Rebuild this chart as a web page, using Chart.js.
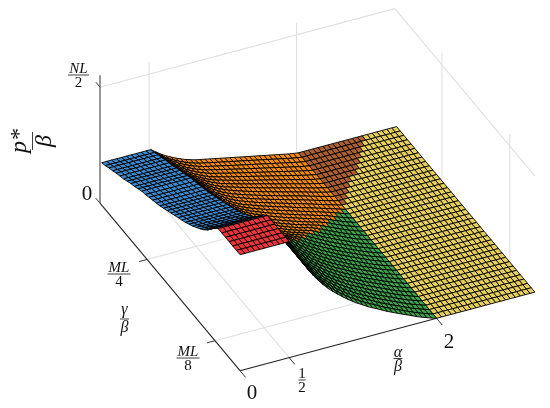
<!DOCTYPE html>
<html>
<head>
<meta charset="utf-8">
<style>html,body{margin:0;padding:0;background:#fff}canvas{display:block}</style>
<script src="https://cdn.jsdelivr.net/npm/chart.js@4/dist/chart.umd.min.js"></script>
</head>
<body>
<canvas id="c" width="550" height="408"></canvas>
<script>
// ---- values ----
const alphaStep = 0.05, gammaStep = 0.026;
const alphaTicks = [0, 0.5, 2];
const gammaTicks = [0.179, 0.664];
const heightTicks = [0, 116];
const heightLimit = 128, alphaLimit = 3, gammaLimit = 1;
// height along each gamma mesh row on the alpha<=1/2 shelf (picture px units of p*/beta)
const rowHeights = [116,116,116,116,116,116,116,112,107,101.5,97.5,94,91,88,85.5,83,81,79,77,75,73,71,69,67.5,66,64.5,63,62,60,58,56.5,54.5,52.5,51,49.5,47.5,46,44,42.5];
// relative height along each alpha mesh column on the green face
const columnShare = [1,1,1,1,1,1,1,1,1,1,1,.931,.853,.776,.707,.647,.595,.547,.504,.466,.431,.397,.366,.336,.31,.284,.259,.237,.216,.194,.172,.153,.134,.115,.097,.078,.06,.043,.028,.013,0,0,0,0,0,0,0,0,0,0,0,0,0,0,0,0,0,0,0,0,0];
// height along the far edge, for columns 10..40
const farEdge = [42.5,39,35.5,32.5,30,27.5,25.5,23.5,22,20.5,19.5,18.5,17.5,16.5,15.5,14.5,13.5,12.5,11.5,10.5,9.5,8.5,7.5,6.5,5.5,4.5,3.5,2.5,1.5,0.7,0];
// gamma row at which green meets orange, for columns 10..40
const ridgeRows = [6,6.7,7.3,8,8.6,9.3,10,10.6,11.3,11.9,12.6,13.3,13.9,14.6,15.2,15.9,16.6,17.2,17.9,18.5,19.2,19.9,20.5,21.2,21.8,22.5,23.2,23.8,24.5,25.1,25.8];
// gamma row at which yellow meets brown, for columns 40..53
const brownRows = [25.8,26.7,27.7,28.6,29.6,30.5,31.4,32.4,33.3,34.3,35.2,36.1,37.1,38];
const shelfRow = 6, rowCount = 38, colCount = 60;
const colours = {blue:'#3b8bd3', red:'#ee3238', green:'#3ca64a', orange:'#f68b0c', brown:'#ae5f2f', yellow:'#e7cf5b'};

// ---- camera of the reference ----
const view = {ox:240, oy:370.7, ax:98.3, ay:-26.2, gx:-140, gy:-167.5, zy:-1};
function project(a, g, z){
  return {x: view.ox + a*view.ax + g*view.gx, y: view.oy + a*view.ay + g*view.gy + z*view.zy};
}

function rowAt(k){
  const i = Math.min(Math.floor(k), rowCount-1), f = k-i;
  return rowHeights[i]*(1-f) + rowHeights[i+1]*f;
}
function heightAt(i, j){
  const share = columnShare[i];
  if (share === 0) return 0;
  if (i <= 10) return rowHeights[j];
  const r = ridgeRows[i-10], top = 116*share;
  if (j <= r) return top;
  const shelf = rowAt(shelfRow + (j-r)/(rowCount-r)*(rowCount-shelfRow));
  const low = rowHeights[rowCount], s = (shelf-low)/(116-low);
  return farEdge[i-10] + (top-farEdge[i-10])*s;
}
function colourAt(i, j){          // cell (i,j) spans columns i..i+1, rows j..j+1
  const cj = j+0.5;
  if (i < 10) return cj < shelfRow ? colours.red : colours.blue;
  if (i < 40) return cj < ridgeRows[i-10] ? colours.green : colours.orange;
  if (i < 53 && cj > brownRows[i-40]) return colours.brown;
  return colours.yellow;
}
function meshPoint(i, j){ return project(i*alphaStep, j*gammaStep, heightAt(i,j)); }

const datasets = [];
// nearest cells first: Chart.js paints the first dataset last
for (let j = 0; j < rowCount; j++){
  for (let i = 0; i < colCount; i++){
    const a = meshPoint(i,j), b = meshPoint(i+1,j), c = meshPoint(i+1,j+1), d = meshPoint(i,j+1);
    datasets.push({data:[a,b,c,d,a], showLine:true, fill:'shape', tension:0, pointRadius:0,
      borderColor:'#000', borderWidth:0.9, backgroundColor:colourAt(i,j), clip:false, borderJoinStyle:'miter'});
  }
}
function segment(p, q, colour, width){
  datasets.push({data:[p,q], showLine:true, fill:false, tension:0, pointRadius:0, borderColor:colour, borderWidth:width, clip:false});
}
const dark = '#222', grid = '#e0e0e0';
// axes and ticks
segment(project(0,0,0), project(alphaLimit*0.667,0,0), dark, 1.1);
segment(project(0,gammaLimit,0), project(0,0,0), dark, 1.1);
segment(project(0,gammaLimit,0), project(0,gammaLimit,heightLimit), '#444', 1.1);
alphaTicks.forEach(a => segment(project(a,0,0), project(a,-0.04,0), dark, 0.9));
gammaTicks.forEach(g => segment(project(0,g,0), project(-0.08,g,0), dark, 0.9));
heightTicks.forEach(z => segment(project(0,gammaLimit,z), project(0,gammaLimit+0.03,z), dark, 0.9));
// grid on floor and walls
alphaTicks.slice(1).forEach(a => {
  segment(project(a,0,0), project(a,gammaLimit,0), grid, 1.1);
  segment(project(a,gammaLimit,0), project(a,gammaLimit,heightLimit), grid, 1.1);
});
gammaTicks.forEach(g => {
  segment(project(0,g,0), project(alphaLimit,g,0), grid, 1.1);
  segment(project(alphaLimit,g,0), project(alphaLimit,g,heightLimit), grid, 1.1);
});
segment(project(0,gammaLimit,116), project(alphaLimit,gammaLimit,116), grid, 1.1);
segment(project(alphaLimit,gammaLimit,116), project(alphaLimit,0,116), grid, 1.1);

// ---- math labels ----
const serif = '"Liberation Serif", serif';
function fraction(ctx, top, bottom, cx, barY, barW, size, italicTop, italicBottom, lift){
  ctx.textAlign = 'center'; ctx.textBaseline = 'alphabetic'; ctx.fillStyle = '#111';
  ctx.font = (italicTop ? 'italic ' : '') + size + 'px ' + serif;
  ctx.fillText(top, cx, barY - (lift || 2.5));
  ctx.font = (italicBottom ? 'italic ' : '') + size + 'px ' + serif;
  ctx.fillText(bottom, cx, barY + 2 + size*0.68);
  ctx.fillRect(cx - barW/2, barY - 0.4, barW, 0.8);
}
const labelPlugin = {
  id:'mathLabels',
  afterDraw(chart){
    const ctx = chart.ctx;
    ctx.save();
    fraction(ctx, 'NL', '2', 78.5, 75, 21, 15, true, false);
    fraction(ctx, 'ML', '4', 119, 274, 23, 15, true, false);
    fraction(ctx, 'ML', '8', 188, 358, 23, 15, true, false);
    fraction(ctx, '1', '2', 302, 380, 7, 15, false, false);
    fraction(ctx, 'γ', 'β', 124.5, 319, 9, 16, true, true, 5.5);
    fraction(ctx, 'α', 'β', 398, 358.5, 9, 16, true, true, 2);
    ctx.font = '21px ' + serif; ctx.textAlign = 'center'; ctx.textBaseline = 'alphabetic'; ctx.fillStyle = '#111';
    ctx.fillText('0', 87, 200);
    ctx.fillText('0', 252, 399);
    ctx.fillText('2', 449, 348);
    ctx.translate(32.5, 141);
    ctx.rotate(-Math.PI/2);
    fraction(ctx, 'p*', 'β', 0, 0, 18, 24, true, true, 7);
    ctx.restore();
  }
};

new Chart(document.getElementById('c'), {
  type:'scatter',
  data:{datasets},
  options:{
    responsive:false, animation:false, events:[],
    layout:{padding:0},
    plugins:{legend:{display:false}, tooltip:{enabled:false}, title:{display:false}},
    scales:{
      x:{type:'linear', min:0, max:550, display:false},
      y:{type:'linear', min:0, max:408, reverse:true, display:false}
    }
  },
  plugins:[labelPlugin]
});
</script>
</body>
</html>
